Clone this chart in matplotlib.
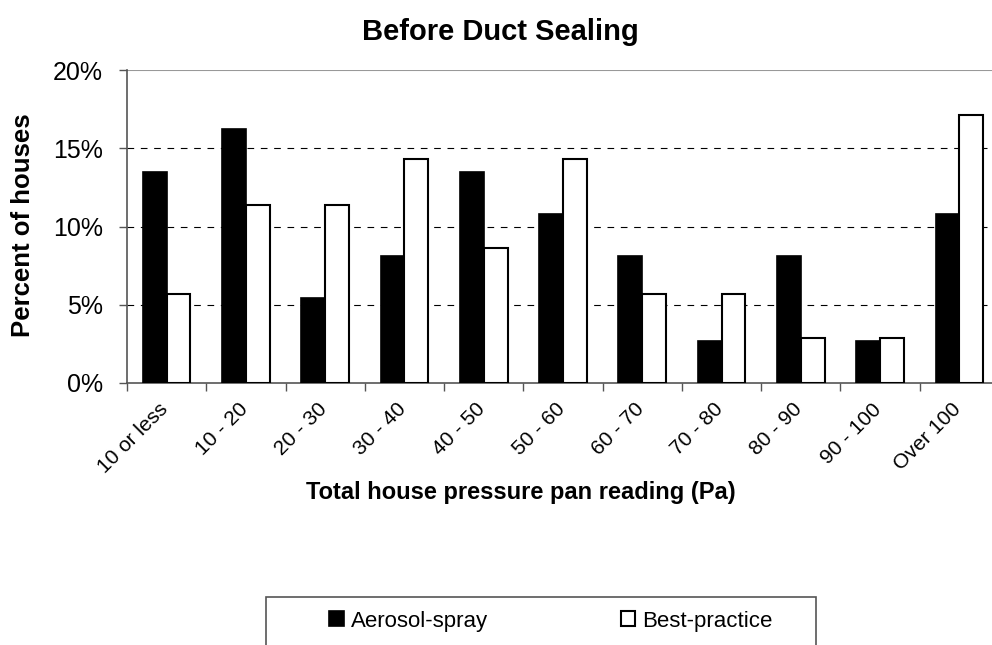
import numpy as np
import matplotlib.pyplot as plt
from matplotlib.patches import Rectangle
from matplotlib.ticker import PercentFormatter
from matplotlib.transforms import ScaledTranslation

plt.rcParams['font.family'] = ['Liberation Sans', 'DejaVu Sans']

categories = ["10 or less", "10 - 20", "20 - 30", "30 - 40", "40 - 50", "50 - 60",
              "60 - 70", "70 - 80", "80 - 90", "90 - 100", "Over 100"]
aerosol = [13.5, 16.2, 5.4, 8.1, 13.5, 10.8, 8.1, 2.7, 8.1, 2.7, 10.8]
best = [5.7, 11.4, 11.4, 14.3, 8.6, 14.3, 5.7, 5.7, 2.9, 2.9, 17.1]

fig = plt.figure(figsize=(9.92, 6.45), dpi=100)
# plot area runs a little past the right edge, as in the original
ax = fig.add_axes([127 / 992, 1 - 383 / 645, 872 / 992, 313 / 645])

x = np.arange(len(categories))
w = 0.3
ax.bar(x - w / 2, aerosol, w, color="black", edgecolor="black", linewidth=1.2,
       label="Aerosol-spray", zorder=3)
ax.bar(x + w / 2, best, w, color="white", edgecolor="black", linewidth=1.5,
       label="Best-practice", zorder=3)

ax.set_xlim(-0.5, len(categories) - 0.5)
ax.set_ylim(0, 20)
ax.set_yticks([0, 5, 10, 15, 20])
ax.yaxis.set_major_formatter(PercentFormatter(decimals=0))
for yv in [5, 10, 15]:
    ax.axhline(yv, color="black", linestyle=(0, (6, 6)), linewidth=0.8, zorder=1)
ax.axhline(20, color="#999999", linewidth=1.5, zorder=1)

ax.set_xticks(x)
ax.set_xticklabels(categories, rotation=45, ha="right", rotation_mode="anchor")
ax.set_xticks(np.arange(len(categories) + 1) - 0.5, minor=True)
ax.tick_params(axis="x", which="major", length=0, labelsize=15, pad=12)
ax.tick_params(axis="x", which="minor", length=6, width=1, color="#555555")
ax.tick_params(axis="y", length=6, width=1, color="#555555", labelsize=18, pad=11.5)
shift = ScaledTranslation(-0.08, 0, fig.dpi_scale_trans)
for lab in ax.get_xticklabels():
    lab.set_transform(lab.get_transform() + shift)

for s in ["top", "right"]:
    ax.spines[s].set_visible(False)
ax.spines["left"].set_color("#555555")
ax.spines["bottom"].set_color("#555555")
ax.spines["left"].set_linewidth(1.2)
ax.spines["bottom"].set_linewidth(1.2)

fig.text(23 / 992, 1 - 225 / 645, "Percent of houses", fontsize=18.5,
         fontweight="bold", rotation=90, ha="center", va="center")
fig.text(500 / 992, 1 - 32 / 645, "Before Duct Sealing", fontsize=21,
         fontweight="bold", ha="center", va="center")
fig.text(521 / 992, 1 - 493 / 645, "Total house pressure pan reading (Pa)",
         fontsize=17, fontweight="bold", ha="center", va="center")

fig.patches.append(Rectangle((266 / 992, -0.01), 550 / 992, 1.01 - 597 / 645,
                             transform=fig.transFigure, facecolor="none",
                             edgecolor="#555555", linewidth=1.2))
leg = fig.legend(loc="center", bbox_to_anchor=(551 / 992, 1 - 621 / 645), ncol=2,
                 fontsize=16, frameon=False,
                 handlelength=0.65, handleheight=0.65, handletextpad=0.3,
                 columnspacing=6.0, borderpad=0)

fig.savefig("out.png", dpi=100)
